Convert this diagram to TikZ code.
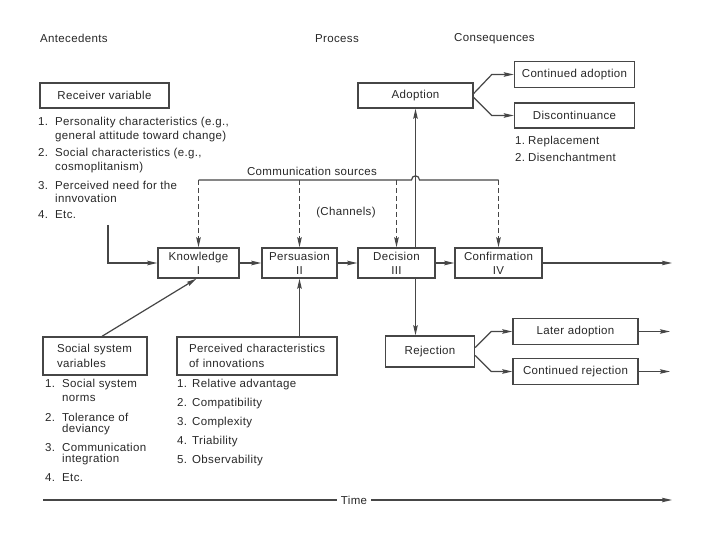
\documentclass[tikz,border=0pt]{standalone}
\usepackage{fontspec}
\setmainfont{Liberation Sans}[LetterSpace=3]
\usetikzlibrary{arrows.meta,calc}
\definecolor{ink}{RGB}{40,40,40}
\definecolor{lin}{RGB}{70,70,70}
\newcommand{\itm}[3][17pt]{\makebox[#1][l]{#2}#3}
\begin{document}
\begin{tikzpicture}[x=1pt,y=-1pt,
  every node/.style={font=\fontsize{11.5}{13.5}\selectfont, text=ink},
  box/.style={draw=lin, line width=1.4pt, inner sep=0pt, align=center},
  pbox/.style={box, minimum height=30pt, font=\fontsize{11.5}{14}\selectfont},
  txt/.style={anchor=west, inner sep=0pt},
  conn/.style={draw=lin, line width=1.2pt},
  arr/.style={conn, -{Stealth[length=10pt,width=4.5pt,inset=1.5pt]}},
  darr/.style={arr, dash pattern=on 5pt off 3pt}
]
\useasboundingbox[fill=white] (0,0) rectangle (720,540);

% headers
\node[txt] (hA) at (40,38) {Antecedents};
\node[txt] (hP) at (315,39) {Process};
\node[txt] (hC) at (454,39) {Consequences};

% receiver variable
\node[box, minimum width=129pt, minimum height=25pt] (recv) at (104.5,95.5) {Receiver variable};
\node[txt] (r1a) at (38,123) {\itm{1.}{Personality characteristics (e.g.,}};
\node[txt] (r1b) at (55,137) {general attitude toward change)};
\node[txt] (r2a) at (38,154) {\itm{2.}{Social characteristics (e.g.,}};
\node[txt] (r2b) at (55,168) {cosmoplitanism)};
\node[txt] (r3a) at (38,185) {\itm{3.}{Perceived need for the}};
\node[txt] (r3b) at (55,198) {innvovation};
\node[txt] (r4) at (38,215) {\itm{4.}{Etc.}};

% process boxes
\node[pbox, minimum width=81pt] (know) at (198.5,263) {Knowledge\\I};
\node[pbox, minimum width=75pt] (pers) at (299.5,263) {Persuasion\\II};
\node[pbox, minimum width=77pt] (dec) at (396.5,263) {Decision\\III};
\node[pbox, minimum width=87pt] (conf) at (498.5,263) {Confirmation\\IV};

% consequences
\node[box, minimum width=115pt, minimum height=25pt] (adop) at (415.5,95.5) {Adoption};
\node[box, minimum width=120pt, minimum height=26pt] (cadop) at (574.5,74.5) {Continued adoption};
\node[box, minimum width=120pt, minimum height=25pt] (disc) at (574.5,115.5) {Discontinuance};
\node[txt] (d1) at (515,142) {\itm[13pt]{1.}{Replacement}};
\node[txt] (d2) at (515,157) {\itm[13pt]{2.}{Disenchantment}};

\node[box, minimum width=89pt, minimum height=31pt] (rej) at (430,351.5) {Rejection};
\node[box, minimum width=125pt, minimum height=26pt] (lad) at (575.5,331.5) {Later adoption};
\node[box, minimum width=125pt, minimum height=26pt] (crej) at (575.5,371.5) {Continued rejection};

% communication sources
\node (cst) at (312,171) {Communication sources};
\node (chan) at (346,213) {(Channels)};

% bottom boxes
\node[box, minimum width=104pt, minimum height=38pt, align=left, text width=96pt, inner xsep=4pt,
      font=\fontsize{11.5}{15}\selectfont] (soc) at (95,356)
  {\hspace*{10pt}Social system\\\hspace*{10pt}variables};
\node[box, minimum width=160pt, minimum height=38pt, align=left, text width=152pt, inner xsep=4pt,
      font=\fontsize{11.5}{15}\selectfont] (perc) at (257,356)
  {\hspace*{8pt}Perceived characteristics\\\hspace*{8pt}of innovations};

\node[txt] (s1a) at (45,385) {\itm{1.}{Social system}};
\node[txt] (s1b) at (62,398) {norms};
\node[txt] (s2a) at (45,417) {\itm{2.}{Tolerance of}};
\node[txt] (s2b) at (62,430) {deviancy};
\node[txt] (s3a) at (45,447) {\itm{3.}{Communication}};
\node[txt] (s3b) at (62,460) {integration};
\node[txt] (s4) at (45,478) {\itm{4.}{Etc.}};

\node[txt] (p1) at (177,385) {\itm[15pt]{1.}{Relative advantage}};
\node[txt] (p2) at (177,404) {\itm[15pt]{2.}{Compatibility}};
\node[txt] (p3) at (177,423) {\itm[15pt]{3.}{Complexity}};
\node[txt] (p4) at (177,442) {\itm[15pt]{4.}{Triability}};
\node[txt] (p5) at (177,461) {\itm[15pt]{5.}{Observability}};

% time
\node[inner sep=4pt] (time) at (354,500) {Time};
\coordinate (tl) at (43,500);
\coordinate (tr) at (672,500);
\draw[conn] (tl) -- (time.west);
\draw[arr] (time.east) -- (tr);

% connectors
\coordinate (rs) at (108,225);
\draw[arr] (rs) |- (know.west);
\draw[arr] (know) -- (pers);
\draw[arr] (pers) -- (dec);
\draw[arr] (dec) -- (conf);
\coordinate (ce) at (672,263);
\draw[arr] (conf) -- (ce);

\draw[arr] (adop.south |- dec.north) -- (adop.south);
\draw[arr] (adop.south |- dec.south) -- (adop.south |- rej.north);

\coordinate (cs) at (0,180);
\draw[conn] (know.north |- cs) -- ($(adop.south |- cs)+(-4,0)$)
  .. controls ($(adop.south |- cs)+(-4,-5.5)$) and ($(adop.south |- cs)+(4,-5.5)$) .. ($(adop.south |- cs)+(4,0)$)
  -- (conf.north |- cs);
\draw[darr] (know.north |- cs) -- (know.north);
\draw[darr] (pers.north |- cs) -- (pers.north);
\draw[darr] (dec.north |- cs) -- (dec.north);
\draw[darr] (conf.north |- cs) -- (conf.north);

\draw[arr] ([yshift=2pt]adop.east) -- ($(cadop.west)+(-22,0)$) -- (cadop.west);
\draw[arr] ([yshift=-2pt]adop.east) -- ($(disc.west)+(-22,0)$) -- (disc.west);

\draw[arr] ([yshift=4pt]rej.east) -- ($(lad.west)+(-21,0)$) -- (lad.west);
\draw[arr] ([yshift=-4pt]rej.east) -- ($(crej.west)+(-21,0)$) -- (crej.west);
\coordinate (le) at (670,331.5);
\coordinate (cre) at (670,371.5);
\draw[arr] (lad.east) -- (le);
\draw[arr] (crej.east) -- (cre);

\draw[arr] ([xshift=7pt]soc.north) -- ([xshift=-2pt]know.south);
\draw[arr] (pers.south |- perc.north) -- (pers.south);
\end{tikzpicture}
\end{document}
